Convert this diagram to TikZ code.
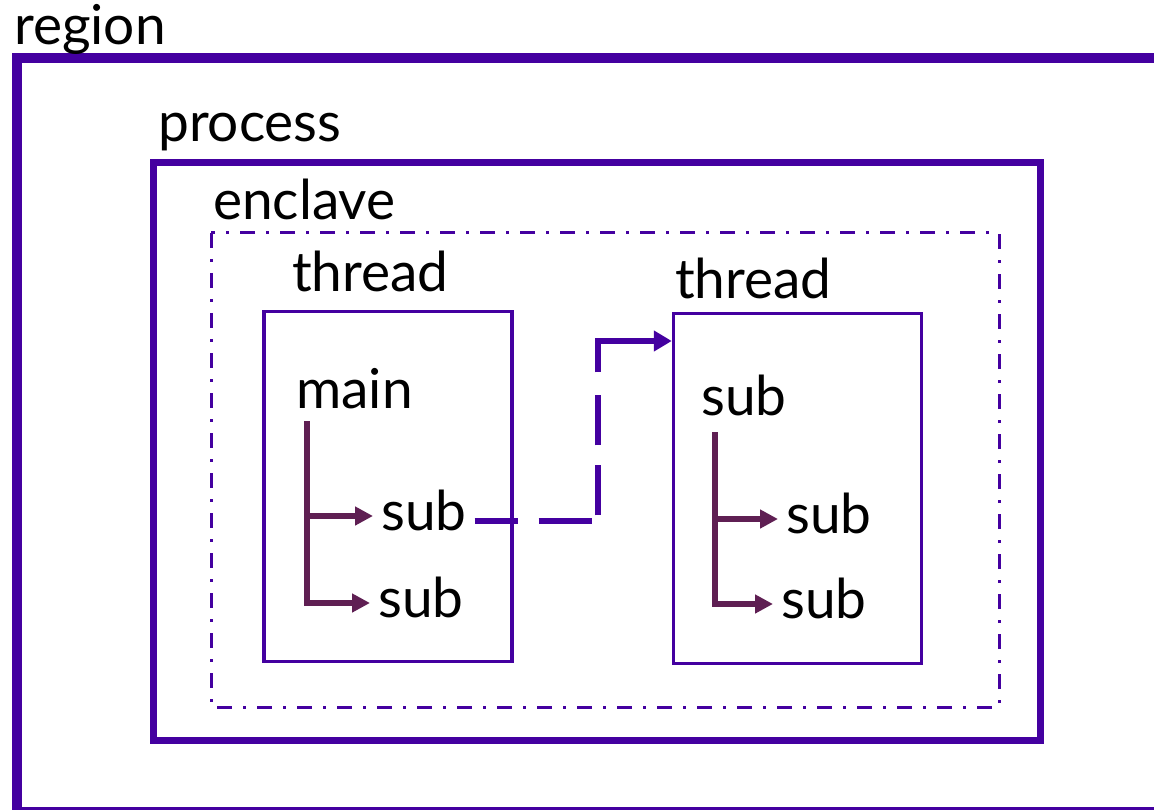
\documentclass[tikz,border=0pt]{standalone}
\usepackage{fontspec}
\setmainfont{Lato}
\usetikzlibrary{arrows.meta}
\definecolor{frame}{HTML}{4400A0}
\definecolor{branch}{HTML}{5F1F53}

\tikzset{
    tag/.style={anchor=base west, inner xsep=8pt, inner ysep=0pt, text height=28pt, text depth=0pt, font=\fontsize{55}{60}\selectfont},
    threadbox/.style={draw=frame, line width=3.5pt, minimum width=248pt, minimum height=350pt, inner sep=0pt},
    branchline/.style={branch, line width=6pt, -{Triangle[length=18pt, width=18pt]}},
    jump/.style={frame, line width=6pt, -{Triangle[length=18pt, width=20pt]},
        dash pattern=on 43pt off 21pt on 53pt off 12pt on 50pt off 20pt on 50pt off 23pt on 400pt off 1pt}
}

\begin{document}
\begin{tikzpicture}[x=1pt, y=-1pt]
    \useasboundingbox (0,0) rectangle (1154,810);
    \clip (0,0) rectangle (1154,810);

    % Nested frames
    \draw[frame, line width=10pt] (17,58) rectangle (1165,812);
    \draw[frame, line width=7pt] (153,163) rectangle (1040,740);
    \draw[frame, line width=3pt, dash pattern=on 15pt off 11pt on 3pt off 11pt] (211,233) rectangle (999,707);

    % Frame labels
    \node[tag] (region) at (6,45) {region};
    \node[tag] (process) at (150,142) {process};
    \node[tag] (enclave) at (205,220) {enclave};

    % Threads
    \node[threadbox] (thrA) at (388,486.5) {};
    \node[threadbox] (thrB) at (797.5,488.5) {};
    \node[tag] (labA) at (284,292) {thread};
    \node[tag] (labB) at (667,299) {thread};

    % First thread
    \node[tag] (main) at (288,408) {main};
    \node[tag] (subA) at (373,530) {sub};
    \node[tag] (subB) at (370,617) {sub};
    \coordinate (trunkA) at (307,421);
    \draw[branchline] (trunkA) |- (subB.west);
    \draw[branchline] (trunkA |- subA.west) -- (subA.west);

    % Second thread
    \node[tag] (subC) at (693,415) {sub};
    \node[tag] (subD) at (778,533) {sub};
    \node[tag] (subE) at (773,618) {sub};
    \coordinate (trunkB) at (715,432);
    \draw[branchline] (trunkB) |- (subE.west);
    \draw[branchline] (trunkB |- subD.west) -- (subD.west);

    % Hand-off between threads
    \coordinate (hop) at (598,341);
    \draw[jump] ([yshift=-5pt]subA.east) -| (hop) -- (hop -| thrB.west);
\end{tikzpicture}
\end{document}
